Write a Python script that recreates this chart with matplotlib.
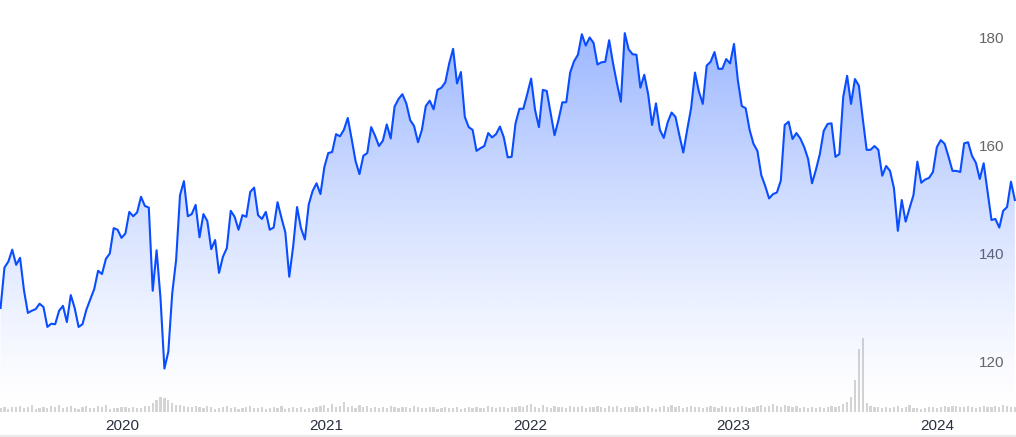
import numpy as np
import pandas as pd
import matplotlib
matplotlib.use('Agg')
import matplotlib.pyplot as plt
import matplotlib.dates as mdates
from matplotlib.lines import Line2D

plt.rcParams['font.family'] = ['Liberation Sans', 'DejaVu Sans']

# weekly closing price
close = [
    129.9, 137.4, 138.5, 140.7, 137.9, 139.2, 133.2, 129.0, 129.4, 129.7,
    130.7, 130.1, 126.4, 127.0, 126.9, 129.4, 130.3, 127.3, 132.3, 129.9,
    126.4, 126.9, 129.6, 131.5, 133.4, 136.8, 136.2, 139.0, 140.0, 144.7,
    144.4, 142.9, 143.7, 147.7,
    146.9, 147.6, 150.5, 148.8, 148.5, 133.1, 140.6, 131.7, 118.7, 121.8,
    132.6, 138.8, 150.8, 153.4, 146.9, 147.3, 149.0, 143.0, 147.3, 146.0,
    140.8, 142.5, 136.4, 139.4, 141.0, 147.9, 146.8, 144.4, 147.1, 146.8,
    151.4, 152.2,
    147.1, 146.4, 147.7, 144.4, 144.8, 149.5, 146.6, 143.9, 135.7, 141.3,
    148.6, 144.7, 142.6, 149.1, 151.6, 153.0, 151.0, 156.0, 158.6, 158.8,
    162.1, 161.7, 162.9, 165.1, 161.2, 157.1, 154.7, 158.1, 158.6, 163.4,
    161.8, 159.9,
    160.9, 163.9, 161.3, 167.2, 168.6, 169.5, 167.8, 164.7, 163.6, 160.6,
    162.9, 167.3, 168.3, 166.7, 170.3, 170.7, 171.7, 175.2, 177.9, 171.5,
    173.6, 165.3, 163.4, 162.9, 159.0, 159.5, 159.9, 162.3, 161.5, 162.1,
    163.5, 161.5,
    157.8, 157.9, 164.1, 166.8, 166.8, 169.5, 172.4, 166.6, 163.4, 170.3,
    170.1, 166.0, 161.9, 164.7, 168.0, 168.0, 173.5, 175.6, 176.8, 180.6,
    178.5, 180.0, 179.0, 175.0, 175.4, 175.5, 179.5, 175.2, 171.5, 168.1,
    180.8, 177.8,
    176.9, 176.8, 170.7, 173.1, 169.5, 163.8, 167.8, 162.9, 161.4, 164.3,
    166.1, 165.3, 161.9, 158.7, 162.9, 166.9, 173.5, 170.0, 167.7, 174.8,
    175.5, 177.3, 174.2, 174.2, 176.0, 175.2, 178.8, 172.0, 167.3, 166.9,
    162.9, 160.3,
    159.0, 154.5, 152.5, 150.2, 151.0, 151.3, 153.5, 163.8, 164.4, 161.2,
    162.3, 161.3, 159.7, 157.5, 153.0, 155.5, 158.4, 162.7, 164.0, 164.1,
    157.9, 158.4, 169.0, 172.9, 167.7, 172.3, 171.1, 165.0, 159.2, 159.2,
    159.9,
    159.2, 154.4, 156.2, 155.3, 152.1, 144.2, 149.9, 145.9, 148.4, 150.8,
    157.0, 153.1, 153.7, 154.0, 155.1, 159.7, 161.0, 160.3, 157.9, 155.3,
    155.3, 155.1, 160.4, 160.6, 158.1, 156.8, 153.8, 156.7, 151.4, 146.2,
    146.4, 144.8, 147.9, 148.6, 153.3, 149.9,
]

# weekly volume (relative units)
volume = [
    4, 5, 3, 5, 5, 6, 4, 5, 7, 3, 4, 5, 4, 6, 5, 7, 4, 5, 6, 4,
    3, 5, 6, 4, 4, 6, 5, 7, 3, 4, 4, 5, 5, 4,
    5, 4, 4, 6, 6, 9, 12, 15, 14, 12, 9, 7, 7, 6, 5, 5, 6, 5, 4, 6,
    5, 3, 4, 5, 6, 4, 5, 3, 4, 5, 6, 4,
    4, 5, 3, 4, 5, 4, 6, 3, 4, 5, 4, 5, 3, 4, 4, 5, 6, 7, 4, 8,
    5, 6, 10, 5, 6, 4, 7, 5, 6, 4, 5, 4,
    5, 4, 6, 5, 4, 5, 5, 4, 6, 5, 4, 4, 5, 5, 3, 4, 5, 4, 4, 5,
    3, 4, 5, 4, 5, 4, 4, 6, 5, 4, 5, 5,
    4, 5, 5, 6, 5, 7, 8, 5, 4, 7, 5, 4, 6, 5, 5, 4, 6, 5, 5, 6,
    4, 5, 5, 6, 5, 4, 6, 5, 6, 4, 5, 5,
    5, 6, 4, 5, 6, 4, 3, 5, 6, 5, 7, 5, 6, 4, 5, 6, 5, 5, 4, 5,
    6, 5, 4, 6, 5, 5, 4, 5, 6, 5, 4, 5,
    6, 7, 5, 6, 8, 6, 5, 7, 6, 5, 6, 4, 5, 4, 5, 4, 5, 4, 5, 6,
    5, 6, 8, 10, 15, 32, 63, 74, 9, 6, 5,
    5, 4, 5, 4, 5, 6, 4, 5, 7, 4, 4, 3, 4, 5, 5, 4, 5, 6, 5, 6,
    6, 5, 5, 6, 5, 4, 5, 6, 5, 5, 6, 5, 7, 6, 5, 5,
]

y_ticks = [120, 140, 160, 180]

dates = pd.date_range('2019-05-27', periods=len(close), freq='W-MON')

line_color = '#0a4dff'
y_bottom, y_top = 110.65, 186.94

fig = plt.figure(figsize=(10.16, 4.37), dpi=100)
rect = [0, 25 / 437, 1, 412 / 437]

ax_vol = fig.add_axes(rect)
ax_vol.bar(dates, volume, width=4, color='#d4d4d4')
ax_vol.set_ylim(0, max(volume) / 0.18)
ax_vol.axis('off')

ax = fig.add_axes(rect, sharex=ax_vol)
ax.patch.set_visible(False)
ax.plot(dates, close, color=line_color, lw=1.5, zorder=3)

x0 = mdates.date2num(dates[0] - pd.Timedelta(days=1))
x1 = mdates.date2num(dates[-1] + pd.Timedelta(days=2))

# gradient fill under the line, fading to white at the bottom
grad = np.zeros((256, 1, 4))
grad[..., :3] = matplotlib.colors.to_rgb(line_color)
grad[:, 0, 3] = 0.45 * np.linspace(0, 1, 256) ** 1.3
im = ax.imshow(grad, extent=[x0, x1, y_bottom, y_top], origin='lower',
               aspect='auto', zorder=2)
poly = ax.fill_between(dates, close, y_bottom, color='none')
im.set_clip_path(poly.get_paths()[0], transform=ax.transData)

ax.set_xlim(x0, x1)
ax.set_ylim(y_bottom, y_top)

ax.xaxis.set_major_locator(mdates.YearLocator())
ax.xaxis.set_major_formatter(mdates.DateFormatter('%Y'))
ax.tick_params(axis='x', length=0, pad=5, labelsize=11, labelcolor='#2a3040')

ax.yaxis.tick_right()
ax.set_yticks(y_ticks)
ax.tick_params(axis='y', length=0, pad=-37 * 0.72, labelsize=11, labelcolor='#666666')

for s in ax.spines.values():
    s.set_visible(False)

fig.add_artist(Line2D([0, 1], [1.5 / 437, 1.5 / 437], color='#e8e8e8', lw=1.5))

fig.savefig('out.png', dpi=100)
